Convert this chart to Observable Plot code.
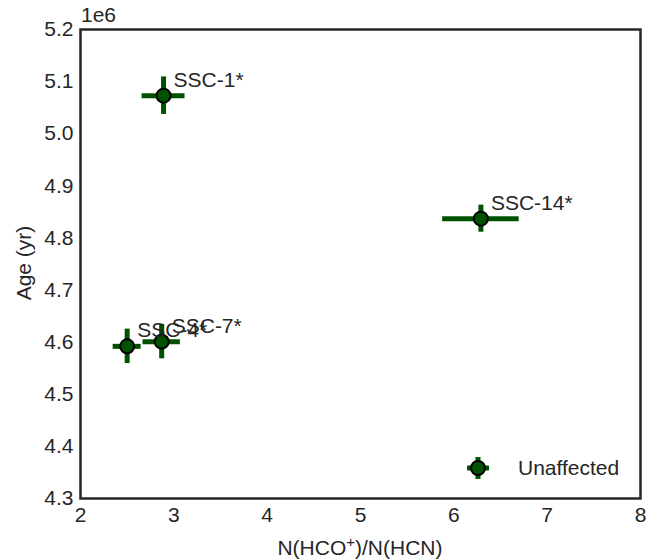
<!DOCTYPE html>
<html>
<head>
<meta charset="utf-8">
<script src="https://cdn.jsdelivr.net/npm/d3@7"></script>
<script src="https://cdn.jsdelivr.net/npm/@observablehq/plot@0.6"></script>
<style>
  html, body { margin: 0; padding: 0; background: white; }
  #chart { width: 671px; height: 559px; }
</style>
</head>
<body>
<div id="chart"></div>
<script>
// Data
const labels = ["SSC-1*", "SSC-4*", "SSC-7*", "SSC-14*"];
const ratio = [2.89, 2.50, 2.87, 6.29];
const ratioErr = [0.23, 0.15, 0.20, 0.41];
const age = [5.073e6, 4.592e6, 4.601e6, 4.837e6];
const ageErr = [0.036e6, 0.033e6, 0.033e6, 0.026e6];
const xTicks = [2, 3, 4, 5, 6, 7, 8];
const yTickLabels = [4.3, 4.4, 4.5, 4.6, 4.7, 4.8, 4.9, 5.0, 5.1, 5.2];
const legendLabel = "Unaffected";
const xLabelMain = ["N(HCO", ")/N(HCN)"];
const xLabelSup = "+";
const yLabel = "Age (yr)";
const offsetText = "1e6";

const color = "#005200";
const ink = "#262626";
const fs = 21;

const data = labels.map((l, i) => ({
  label: l, x: ratio[i], xe: ratioErr[i], y: age[i], ye: ageErr[i]
}));

const plot = Plot.plot({
  width: 671,
  height: 559,
  marginLeft: 80,
  marginRight: 31,
  marginTop: 29,
  marginBottom: 61,
  style: { fontFamily: "Liberation Sans, Arial, sans-serif", fontSize: fs + "px", color: ink, background: "white" },
  x: { domain: [2, 8], ticks: xTicks, tickSize: 0, tickPadding: 9, label: null, tickFormat: d => String(d) },
  y: { domain: [4.3e6, 5.2e6], ticks: yTickLabels.map(v => v * 1e6), tickFormat: d => (d / 1e6).toFixed(1), tickSize: 0, tickPadding: 7, label: null },
  marks: [
    Plot.ruleY(data, { y: "y", x1: d => d.x - d.xe, x2: d => d.x + d.xe, stroke: color, strokeWidth: 5 }),
    Plot.ruleX(data, { x: "x", y1: d => d.y - d.ye, y2: d => d.y + d.ye, stroke: color, strokeWidth: 5 }),
    Plot.dot(data, { x: "x", y: "y", r: 7, fill: color, stroke: "black", strokeWidth: 2 }),
    Plot.text(data, { x: "x", y: "y", text: "label", dx: 10, dy: -9, textAnchor: "start", lineAnchor: "bottom", fill: ink, fontSize: fs }),
    Plot.frame({ stroke: ink, strokeWidth: 2.5 })
  ]
});

document.getElementById("chart").appendChild(plot);

const svg = d3.select(plot);
const font = "Liberation Sans, Arial, sans-serif";

// offset text
svg.append("text").attr("x", 81).attr("y", 22).attr("text-anchor", "start").attr("font-family", font).attr("font-size", fs).attr("fill", ink).text(offsetText);

// x label with superscript
const xl = svg.append("text").attr("x", 360).attr("y", 555).attr("text-anchor", "middle")
  .attr("font-family", font).attr("font-size", fs).attr("fill", ink);
xl.append("tspan").text(xLabelMain[0]);
xl.append("tspan").attr("dy", -8).attr("font-size", 15).text(xLabelSup);
xl.append("tspan").attr("dy", 8).text(xLabelMain[1]);

// y label
svg.append("text").attr("transform", "translate(31,263) rotate(-90)").attr("text-anchor", "middle")
  .attr("font-family", font).attr("font-size", fs).attr("fill", ink).text(yLabel);

// legend
const lg = svg.append("g");
lg.append("line").attr("x1", 467).attr("x2", 489).attr("y1", 468).attr("y2", 468).attr("stroke", color).attr("stroke-width", 5);
lg.append("line").attr("x1", 478).attr("x2", 478).attr("y1", 457).attr("y2", 479).attr("stroke", color).attr("stroke-width", 5);
lg.append("circle").attr("cx", 478).attr("cy", 468).attr("r", 7).attr("fill", color).attr("stroke", "black").attr("stroke-width", 2);
lg.append("text").attr("x", 518).attr("y", 475).attr("text-anchor", "start").attr("font-family", font).attr("font-size", fs).attr("fill", ink).text(legendLabel);
</script>
</body>
</html>
